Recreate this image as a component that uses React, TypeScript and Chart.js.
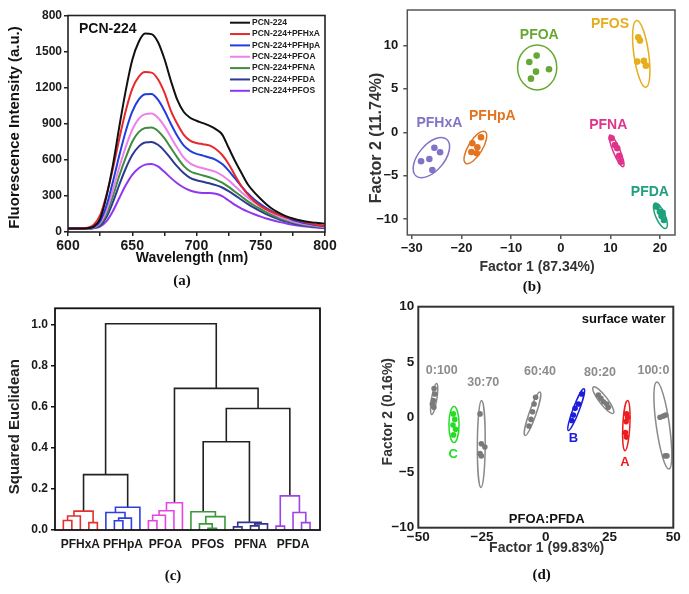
import React, { useEffect, useRef } from 'react';
import { Chart, registerables } from 'chart.js';

Chart.register(...registerables);

const SANS = '"Liberation Sans", Arial, Helvetica, sans-serif';
const SERIF = '"Liberation Serif", "Times New Roman", serif';
Chart.defaults.font.family = SANS;

// ---------------- (a) fluorescence spectra ----------------
const wavelengthNm = [600, 605, 610, 615, 620, 625, 630, 635, 640, 645, 650, 655, 660, 665, 670, 675, 680, 685, 690, 695, 700, 705, 710, 715, 720, 725, 730, 735, 740, 745, 750, 755, 760, 765, 770, 775, 780, 785, 790, 795, 800];
const pcn224 = [30, 30, 30, 32, 45, 110, 300, 560, 880, 1180, 1430, 1580, 1650, 1645, 1580, 1440, 1260, 1100, 1000, 950, 925, 905, 885, 855, 810, 700, 590, 490, 395, 330, 275, 225, 185, 155, 130, 112, 98, 88, 80, 74, 68];
const pcnPfhxa = [28, 28, 28, 35, 60, 140, 310, 530, 780, 1010, 1190, 1290, 1330, 1325, 1270, 1160, 1010, 900, 810, 760, 740, 730, 720, 690, 640, 565, 470, 380, 310, 255, 215, 185, 160, 140, 122, 108, 95, 80, 68, 58, 50];
const pcnPfhpa = [30, 30, 30, 31, 40, 90, 220, 420, 640, 840, 1000, 1100, 1145, 1148, 1100, 1010, 900, 800, 720, 675, 650, 635, 620, 600, 565, 510, 445, 380, 320, 270, 230, 195, 165, 140, 120, 100, 85, 72, 62, 54, 48];
const pcnPfoa = [30, 30, 30, 31, 38, 75, 180, 350, 540, 710, 850, 940, 980, 985, 950, 880, 790, 700, 620, 570, 545, 530, 515, 500, 470, 430, 380, 330, 285, 245, 210, 180, 150, 125, 105, 88, 75, 64, 55, 48, 42];
const pcnPfna = [30, 30, 30, 31, 36, 65, 150, 300, 470, 620, 750, 830, 865, 868, 840, 780, 700, 620, 550, 505, 485, 470, 455, 435, 410, 375, 335, 295, 255, 220, 190, 160, 135, 112, 95, 80, 68, 58, 50, 44, 40];
const pcnPfda = [30, 30, 30, 30, 34, 55, 125, 250, 395, 530, 640, 710, 745, 748, 725, 675, 610, 545, 490, 450, 430, 418, 405, 390, 370, 340, 305, 268, 232, 200, 172, 145, 122, 102, 86, 73, 62, 53, 46, 40, 36];
const pcnPfos = [30, 30, 30, 30, 32, 45, 90, 175, 285, 390, 475, 530, 560, 565, 545, 500, 450, 405, 370, 345, 330, 324, 325, 318, 298, 262, 225, 195, 170, 148, 128, 110, 95, 82, 70, 60, 52, 45, 40, 36, 32];
const spectraNames = ['PCN-224', 'PCN-224+PFHxA', 'PCN-224+PFHpA', 'PCN-224+PFOA', 'PCN-224+PFNA', 'PCN-224+PFDA', 'PCN-224+PFOS'];
const spectraColors = ['#111111', '#e8282b', '#1f3ee0', '#ee80ea', '#3f8c3f', '#2c3a92', '#9036f0'];
const wavelengthTicks = [600, 625, 650, 675, 700, 725, 750, 775, 800];
const wavelengthTickLabels = ['600', '', '650', '', '700', '', '750', '', '800'];
const intensityTicks = [0, 300, 600, 900, 1200, 1500, 1800];
const intensityTickLabels = ['0', '300', '600', '900', '1200', '1500', '800'];

// ---------------- (b) PCA of six PFAS ----------------
const pfasNames = ['PFHxA', 'PFHpA', 'PFOA', 'PFOS', 'PFNA', 'PFDA'];
const pfasColors = ['#7f74c6', '#e4731f', '#67a832', '#e6ad1c', '#e0338c', '#1fa07c'];
const scoresPfhxa = [[-25.45, -1.78], [-24.3, -2.31], [-26.46, -3.08], [-28.13, -3.35], [-25.86, -4.35]];
const scoresPfhpa = [[-16.06, -0.58], [-17.81, -1.27], [-16.8, -1.73], [-18.0, -2.27], [-16.92, -2.42]];
const scoresPfoa = [[-4.85, 8.84], [-6.34, 8.11], [-4.99, 6.99], [-2.37, 7.27], [-6.0, 6.18]];
const scoresPfos = [[15.6, 10.96], [15.94, 10.57], [15.39, 8.15], [16.74, 8.23], [17.14, 7.68]];
const scoresPfna = [[10.24, -0.69], [10.9, -1.47], [11.37, -1.85], [11.77, -2.73], [12.11, -3.39]];
const scoresPfda = [[19.3, -8.58], [19.96, -9.16], [20.3, -9.66], [20.77, -10.12], [20.5, -9.3]];
// confidence ellipses: major-axis end points (x1, y1, x2, y2) and minor/major ratio
const ellipsesB = [[-22.98, -0.81, -29.13, -5.04, 0.54], [-15.25, 0.07, -19.13, -3.58, 0.38], [-4.75, 10.07, -4.75, 4.88, 0.87], [15.27, 12.88, 17.14, 5.19, 0.22], [9.9, -0.31, 12.58, -3.97, 0.2], [18.95, -8.19, 21.17, -11.08, 0.34]];
const labelAnchorsB = [[-24.45, 1.04], [-13.78, 1.88], [-4.33, 11.23], [9.9, 12.46], [9.56, 0.84], [17.95, -6.85]];
const factor1TicksB = [-30, -20, -10, 0, 10, 20];
const factor1LabelsB = ['\u221230', '\u221220', '\u221210', '0', '10', '20'];
const factor2TicksB = [-10, -5, 0, 5, 10];
const factor2LabelsB = ['\u221210', '\u22125', '0', '5', '10'];

// ---------------- (c) dendrogram ----------------
const leafGroup = [0, 0, 0, 0, 0, 1, 1, 1, 1, 1, 2, 2, 2, 2, 2, 3, 3, 3, 3, 3, 4, 4, 4, 4, 4, 5, 5, 5, 5, 5];
const groupColorsC = ['#e3312f', '#2f3fe0', '#e645e6', '#3a9a3a', '#34348f', '#9b45e8'];
// [node a, node b, merge height]; merge k creates node 30 + k
const linkage = [
  [0, 1, 0.046], [30, 2, 0.068], [3, 4, 0.036], [31, 32, 0.092],
  [6, 7, 0.045], [34, 8, 0.058], [5, 35, 0.085], [36, 9, 0.111],
  [10, 11, 0.045], [38, 12, 0.072], [39, 13, 0.094], [40, 14, 0.133],
  [17, 18, 0.008], [16, 42, 0.03], [43, 19, 0.065], [15, 44, 0.089],
  [20, 21, 0.015], [22, 23, 0.02], [47, 24, 0.03], [46, 48, 0.037],
  [25, 26, 0.019], [28, 29, 0.036], [27, 51, 0.085], [50, 52, 0.166],
  [33, 37, 0.27], [45, 49, 0.43], [55, 53, 0.592], [41, 56, 0.69], [54, 57, 1.005],
];
const clusterLabelTicks = [2, 7, 12, 17, 22, 27];
const distanceTicks = [0, 0.2, 0.4, 0.6, 0.8, 1.0];
const distanceTickLabels = ['0.0', '0.2', '0.4', '0.6', '0.8', '1.0'];

// ---------------- (d) PCA of mixtures ----------------
const mixNames = ['0:100', 'C', '30:70', '60:40', 'B', '80:20', 'A', '100:0'];
const mixColors = ['#7a7a7a', '#22dd22', '#7a7a7a', '#7a7a7a', '#1c1cdc', '#7a7a7a', '#ee1c1c', '#7a7a7a'];
const ellipseColorsD = ['#8a8a8a', '#22dd22', '#8a8a8a', '#8a8a8a', '#1c1cdc', '#8a8a8a', '#ee1c1c', '#8a8a8a'];
const labelColorsD = ['#8c8c8c', '#22dd22', '#8c8c8c', '#8c8c8c', '#1c1cdc', '#8c8c8c', '#ee1c1c', '#8c8c8c'];
const scores0100 = [[-43.8, 2.6], [-43.5, 2.1], [-44.1, 1.5], [-44.5, 1.2], [-43.9, 0.9]];
const scoresC = [[-36.3, 0.3], [-35.7, -0.2], [-36.4, -0.7], [-35.4, -1.1], [-36.2, -1.6]];
const scores3070 = [[-25.8, 0.3], [-25.3, -2.4], [-23.9, -2.7], [-25.8, -3.3], [-25.3, -3.5]];
const scores6040 = [[-4.0, 1.8], [-4.6, 1.2], [-5.2, 0.5], [-5.8, -0.2], [-6.6, -0.8]];
const scoresB = [[14.1, 2.1], [12.8, 1.2], [11.5, 0.8], [10.8, 0.2], [10.2, -0.3]];
const scores8020 = [[20.6, 2.0], [21.6, 1.7], [22.6, 1.4], [23.9, 1.2], [24.5, 0.9]];
const scoresA = [[31.7, 0.3], [32.1, 0.0], [31.5, -0.4], [31.2, -1.4], [31.6, -1.8]];
const scores1000 = [[44.8, 0.0], [46.1, 0.1], [47.0, 0.2], [46.8, -3.5], [47.5, -3.5]];
const ellipsesD = [[-42.8, 3.04, -44.75, 0.25, 0.17], [-36, 0.97, -36, -2.3, 0.28], [-25.2, 1.52, -25.4, -6.36, 0.09], [-2.27, 2.27, -8.16, -1.66, 0.15], [14.98, 2.58, 8.82, -1.21, 0.14], [18.6, 2.73, 26.47, 0.36, 0.25], [32.1, 1.52, 31.06, -3.03, 0.14], [43.5, 3.18, 48.3, -4.69, 0.15]];
const labelAnchorsD = [[-40.8, 4.18], [-36.3, -3.33], [-24.5, 3.18], [-2.27, 4.09], [10.8, -1.88], [21.25, 4.0], [31.06, -4.09], [42.2, 4.18]];
const factor1TicksD = [-50, -25, 0, 25, 50];
const factor1LabelsD = ['\u221250', '\u221225', '0', '25', '50'];
const factor2TicksD = [-10, -5, 0, 5, 10];
const factor2LabelsD = ['\u221210', '\u22125', '0', '5', '10'];

// ---------------- helpers ----------------
type Box = { left: number; top: number; width: number; height: number };
type Area = { l: number; t: number; r: number; b: number };

const boxA: Box = { left: 0, top: 0, width: 345, height: 300 };
const areaA: Area = { l: 68, t: 15.5, r: 325, b: 232 };
const boxB: Box = { left: 345, top: 0, width: 344, height: 300 };
const areaB: Area = { l: 407.3, t: 10, r: 675, b: 235 };
const boxC: Box = { left: 0, top: 300, width: 345, height: 294 };
const areaC: Area = { l: 55, t: 308.3, r: 320, b: 530 };
const boxD: Box = { left: 345, top: 300, width: 344, height: 294 };
const areaD: Area = { l: 418.3, t: 306.7, r: 673.3, b: 527.7 };

function zeroPad(s: any) {
  s.paddingLeft = 0; s.paddingRight = 0; s.paddingTop = 0; s.paddingBottom = 0;
}

function baseOptions(box: Box, area: Area) {
  return {
    responsive: false,
    maintainAspectRatio: false,
    animation: false,
    devicePixelRatio: 1,
    events: [],
    layout: { padding: { left: 0, top: area.t - box.top, right: box.left + box.width - area.r, bottom: 0 } },
    plugins: { legend: { display: false }, tooltip: { enabled: false }, title: { display: false } },
  };
}

function axis(o: { horizontal: boolean; box: Box; area: Area; min: number; max: number; ticks: number[]; labels: string[]; size: number; pad: number; tick: number; color: string }) {
  const fitSize = o.horizontal ? o.box.top + o.box.height - o.area.b : o.area.l - o.box.left;
  return {
    type: 'linear',
    min: o.min,
    max: o.max,
    bounds: 'data',
    afterBuildTicks: (s: any) => { s.ticks = o.ticks.map((v) => ({ value: v })); },
    afterFit: (s: any) => {
      if (o.horizontal) s.height = fitSize; else s.width = fitSize;
      zeroPad(s);
    },
    ticks: {
      autoSkip: false, maxRotation: 0, minRotation: 0, padding: o.pad, color: '#1a1a1a',
      font: { size: o.size, weight: 'bold', lineHeight: 1 },
      callback: (_v: any, i: number) => o.labels[i],
    },
    grid: { display: true, drawOnChartArea: false, drawTicks: o.tick > 0, tickLength: o.tick, color: o.color, lineWidth: 1.5 },
    border: { display: false },
  };
}

function framePlugin(color: string, width: number) {
  return {
    id: 'frame',
    afterDraw(chart: any) {
      const { ctx, chartArea: a } = chart;
      ctx.save();
      ctx.strokeStyle = color;
      ctx.lineWidth = width;
      ctx.strokeRect(a.left, a.top, a.right - a.left, a.bottom - a.top);
      ctx.restore();
    },
  };
}

type PageText = { text: string; x: number; y: number; font: string; color: string; align?: string; rotate?: boolean };
function pageTextPlugin(items: PageText[], box: Box) {
  return {
    id: 'pageText',
    afterDraw(chart: any) {
      const ctx = chart.ctx;
      items.forEach((it) => {
        ctx.save();
        ctx.translate(it.x - box.left, it.y - box.top);
        if (it.rotate) ctx.rotate(-Math.PI / 2);
        ctx.font = it.font;
        ctx.fillStyle = it.color;
        ctx.textAlign = it.align || 'center';
        ctx.textBaseline = 'middle';
        ctx.fillText(it.text, 0, 0);
        ctx.restore();
      });
    },
  };
}

type DataText = { text: string; at: number[]; font: string; color: string; align?: string };
function dataTextPlugin(items: DataText[]) {
  return {
    id: 'dataText',
    afterDatasetsDraw(chart: any) {
      const { ctx, scales } = chart;
      items.forEach((it) => {
        ctx.save();
        ctx.font = it.font;
        ctx.fillStyle = it.color;
        ctx.textAlign = it.align || 'center';
        ctx.textBaseline = 'middle';
        ctx.fillText(it.text, scales.x.getPixelForValue(it.at[0]), scales.y.getPixelForValue(it.at[1]));
        ctx.restore();
      });
    },
  };
}

function ellipsePlugin(list: number[][], colors: string[], width: number) {
  return {
    id: 'ellipses',
    beforeDatasetsDraw(chart: any) {
      const { ctx, scales } = chart;
      list.forEach(([x1, y1, x2, y2, ratio], i) => {
        const px1 = scales.x.getPixelForValue(x1);
        const py1 = scales.y.getPixelForValue(y1);
        const px2 = scales.x.getPixelForValue(x2);
        const py2 = scales.y.getPixelForValue(y2);
        const a = Math.hypot(px2 - px1, py2 - py1) / 2;
        ctx.save();
        ctx.beginPath();
        ctx.ellipse((px1 + px2) / 2, (py1 + py2) / 2, a, a * ratio, Math.atan2(py2 - py1, px2 - px1), 0, Math.PI * 2);
        ctx.strokeStyle = colors[i];
        ctx.lineWidth = width;
        ctx.stroke();
        ctx.restore();
      });
    },
  };
}

function spectraLegendPlugin() {
  return {
    id: 'spectraLegend',
    afterDraw(chart: any) {
      const ctx = chart.ctx;
      spectraNames.forEach((name, i) => {
        const y = 22.7 + 11.35 * i;
        ctx.save();
        ctx.strokeStyle = spectraColors[i];
        ctx.lineWidth = 2;
        ctx.beginPath();
        ctx.moveTo(230, y);
        ctx.lineTo(250, y);
        ctx.stroke();
        ctx.font = `bold 8.5px ${SANS}`;
        ctx.fillStyle = '#222';
        ctx.textAlign = 'left';
        ctx.textBaseline = 'middle';
        ctx.fillText(name, 252, y);
        ctx.restore();
      });
    },
  };
}

const toXY = (pts: number[][]) => pts.map(([x, y]) => ({ x, y }));

// ---------------- chart configs ----------------
function makeA() {
  const series = [pcn224, pcnPfhxa, pcnPfhpa, pcnPfoa, pcnPfna, pcnPfda, pcnPfos];
  return {
    type: 'scatter',
    data: {
      datasets: series.map((s, i) => ({
        label: spectraNames[i],
        data: s.map((v, j) => ({ x: wavelengthNm[j], y: v })),
        showLine: true,
        borderColor: spectraColors[i],
        borderWidth: 2,
        pointRadius: 0,
        cubicInterpolationMode: 'monotone',
        fill: false,
      })),
    },
    options: {
      ...baseOptions(boxA, areaA),
      scales: {
        x: axis({ horizontal: true, box: boxA, area: areaA, min: 600, max: 800, ticks: wavelengthTicks, labels: wavelengthTickLabels, size: 14, pad: 3, tick: 4, color: '#222' }),
        y: axis({ horizontal: false, box: boxA, area: areaA, min: 0, max: 1800, ticks: intensityTicks, labels: intensityTickLabels, size: 12, pad: 2, tick: 4, color: '#222' }),
      },
    },
    plugins: [
      framePlugin('#222', 1.6),
      spectraLegendPlugin(),
      pageTextPlugin([
        { text: 'PCN-224', x: 79, y: 29, font: `bold 14px ${SANS}`, color: '#111', align: 'left' },
        { text: 'Wavelength (nm)', x: 192, y: 258, font: `bold 14px ${SANS}`, color: '#111' },
        { text: 'Fluorescence Intensity (a.u.)', x: 15, y: 127.5, font: `bold 15px ${SANS}`, color: '#111', rotate: true },
        { text: '(a)', x: 182, y: 281, font: `bold 15px ${SERIF}`, color: '#111' },
      ], boxA),
    ],
  };
}

function makeB() {
  const groups = [scoresPfhxa, scoresPfhpa, scoresPfoa, scoresPfos, scoresPfna, scoresPfda];
  return {
    type: 'scatter',
    data: {
      datasets: groups.map((g, i) => ({
        label: pfasNames[i],
        data: toXY(g),
        pointRadius: 3.3,
        pointBackgroundColor: pfasColors[i],
        pointBorderWidth: 0,
        borderColor: pfasColors[i],
      })),
    },
    options: {
      ...baseOptions(boxB, areaB),
      scales: {
        x: axis({ horizontal: true, box: boxB, area: areaB, min: -30.9, max: 23, ticks: factor1TicksB, labels: factor1LabelsB, size: 13, pad: 3, tick: 4, color: '#555' }),
        y: axis({ horizontal: false, box: boxB, area: areaB, min: -11.85, max: 14.1, ticks: factor2TicksB, labels: factor2LabelsB, size: 13, pad: 5, tick: 4, color: '#555' }),
      },
    },
    plugins: [
      ellipsePlugin(ellipsesB, pfasColors, 1.5),
      dataTextPlugin(pfasNames.map((n, i) => ({ text: n, at: labelAnchorsB[i], font: `bold 14px ${SANS}`, color: pfasColors[i] }))),
      framePlugin('#555', 1.5),
      pageTextPlugin([
        { text: 'Factor 1 (87.34%)', x: 537, y: 267, font: `bold 14px ${SANS}`, color: '#333' },
        { text: 'Factor 2 (11.74%)', x: 377, y: 138, font: `bold 16px ${SANS}`, color: '#333', rotate: true },
        { text: '(b)', x: 532, y: 287, font: `bold 15px ${SERIF}`, color: '#111' },
      ], boxB),
    ],
  };
}

function makeC() {
  const nodeX: number[] = leafGroup.map((_g, i) => i);
  const nodeH: number[] = leafGroup.map(() => 0);
  const nodeG: number[] = [...leafGroup];
  const datasets = linkage.map(([a, b, h]) => {
    const xa = nodeX[a];
    const xb = nodeX[b];
    const g = nodeG[a] === nodeG[b] ? nodeG[a] : -1;
    const ds = {
      data: [{ x: xa, y: nodeH[a] }, { x: xa, y: h }, { x: xb, y: h }, { x: xb, y: nodeH[b] }],
      showLine: true,
      borderColor: g < 0 ? '#222' : groupColorsC[g],
      borderWidth: 1.6,
      pointRadius: 0,
      tension: 0,
      fill: false,
    };
    nodeX.push((xa + xb) / 2);
    nodeH.push(h);
    nodeG.push(g);
    return ds;
  });
  return {
    type: 'scatter',
    data: { datasets },
    options: {
      ...baseOptions(boxC, areaC),
      scales: {
        x: axis({ horizontal: true, box: boxC, area: areaC, min: -0.98, max: 30.17, ticks: clusterLabelTicks, labels: pfasNames, size: 12, pad: 9, tick: 0, color: '#111' }),
        y: axis({ horizontal: false, box: boxC, area: areaC, min: 0, max: 1.08, ticks: distanceTicks, labels: distanceTickLabels, size: 12, pad: 3, tick: 4, color: '#111' }),
      },
    },
    plugins: [
      framePlugin('#111', 1.8),
      pageTextPlugin([
        { text: 'Squared Euclidean', x: 15, y: 426.7, font: `bold 15px ${SANS}`, color: '#222', rotate: true },
        { text: '(c)', x: 173, y: 576, font: `bold 15px ${SERIF}`, color: '#111' },
      ], boxC),
    ],
  };
}

function makeD() {
  const groups = [scores0100, scoresC, scores3070, scores6040, scoresB, scores8020, scoresA, scores1000];
  const labels: DataText[] = mixNames.map((n, i) => ({
    text: n, at: labelAnchorsD[i], color: labelColorsD[i],
    font: n.length === 1 ? `bold 13px ${SANS}` : `bold 12.5px ${SANS}`,
  }));
  labels.push({ text: 'surface water', at: [47.0, 8.88], font: `bold 13px ${SANS}`, color: '#111', align: 'right' });
  labels.push({ text: 'PFOA:PFDA', at: [0.35, -9.24], font: `bold 13px ${SANS}`, color: '#111' });
  return {
    type: 'scatter',
    data: {
      datasets: groups.map((g, i) => ({
        label: mixNames[i],
        data: toXY(g),
        pointRadius: 2.8,
        pointBackgroundColor: mixColors[i],
        pointBorderWidth: 0,
        borderColor: mixColors[i],
      })),
    },
    options: {
      ...baseOptions(boxD, areaD),
      scales: {
        x: axis({ horizontal: true, box: boxD, area: areaD, min: -50, max: 50, ticks: factor1TicksD, labels: factor1LabelsD, size: 13.5, pad: 3, tick: 0, color: '#333' }),
        y: axis({ horizontal: false, box: boxD, area: areaD, min: -10, max: 10, ticks: factor2TicksD, labels: factor2LabelsD, size: 13.5, pad: 4, tick: 0, color: '#333' }),
      },
    },
    plugins: [
      ellipsePlugin(ellipsesD, ellipseColorsD, 1.5),
      dataTextPlugin(labels),
      framePlugin('#333', 2),
      pageTextPlugin([
        { text: 'Factor 1 (99.83%)', x: 546.7, y: 548, font: `bold 14px ${SANS}`, color: '#333' },
        { text: 'Factor 2 (0.16%)', x: 388.3, y: 411.7, font: `bold 14px ${SANS}`, color: '#333', rotate: true },
        { text: '(d)', x: 541.7, y: 575, font: `bold 15px ${SERIF}`, color: '#111' },
      ], boxD),
    ],
  };
}

function ChartPanel({ box, make }: { box: Box; make: () => any }) {
  const ref = useRef<HTMLCanvasElement | null>(null);
  useEffect(() => {
    const chart = new Chart(ref.current as HTMLCanvasElement, make());
    return () => chart.destroy();
  }, []);
  return (
    <canvas
      ref={ref}
      width={box.width}
      height={box.height}
      style={{ position: 'absolute', left: box.left, top: box.top, width: box.width, height: box.height, display: 'block' }}
    />
  );
}

export default function App() {
  return (
    <div style={{ position: 'absolute', left: 0, top: 0, width: 689, height: 594, background: '#ffffff', overflow: 'hidden' }}>
      <ChartPanel box={boxA} make={makeA} />
      <ChartPanel box={boxB} make={makeB} />
      <ChartPanel box={boxC} make={makeC} />
      <ChartPanel box={boxD} make={makeD} />
    </div>
  );
}
